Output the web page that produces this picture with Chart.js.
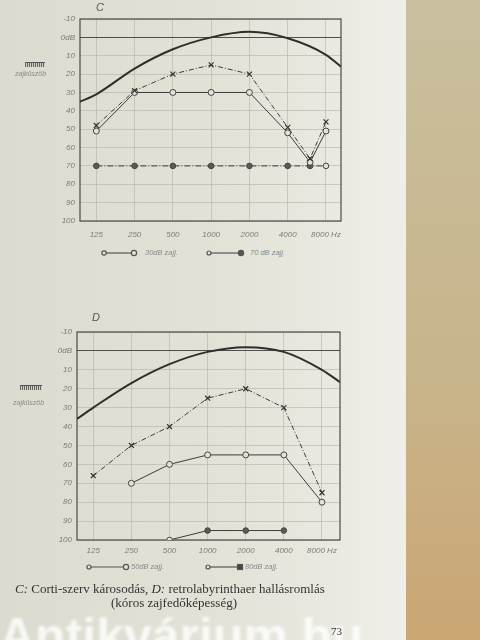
<!DOCTYPE html>
<html>
<head>
<meta charset="utf-8">
<script src="https://cdn.jsdelivr.net/npm/chart.js@4"></script>
<style>
  html,body{margin:0;padding:0;width:480px;height:640px;overflow:hidden;}
  body{position:relative;background:linear-gradient(180deg,#c9bf9f 0%,#c8b48a 60%,#caa673 100%);}
  #page{position:absolute;left:0;top:0;width:406px;height:640px;
        background:linear-gradient(90deg,#dcdbcf 0%,#e3e2d7 55%,#ecebe4 90%,#efeee8 100%);}
  canvas{position:absolute;left:0;}
  .t{position:absolute;white-space:nowrap;}
  .title{font:italic 11px "Liberation Sans",sans-serif;color:#555;}
  .side{font:italic 7px "Liberation Sans",sans-serif;color:#8a8a82;}
  .hatch{position:absolute;height:4px;background:repeating-linear-gradient(90deg,#666 0 1px,#cfcec4 1px 2px);border-top:1px solid #555;}
  .leg{font:italic 7.5px "Liberation Sans",sans-serif;color:#888;}
  .cap{font:13px "Liberation Serif","DejaVu Serif",serif;color:#333;}
  svg{position:absolute;overflow:visible;}
  #wm{position:absolute;left:-1px;top:607px;font:bold 50px "Liberation Sans",sans-serif;color:rgba(255,255,255,0.8);filter:blur(1.6px);}
</style>
</head>
<body>
<div id="page"></div>
<canvas id="cC" width="360" height="240" style="top:0px"></canvas>
<canvas id="cD" width="360" height="250" style="top:310px"></canvas>

<div class="t title" style="left:96px;top:1px;">C</div>
<div class="t title" style="left:92px;top:311px;">D</div>

<div class="hatch" style="left:25px;top:62px;width:20px;"></div>
<div class="t side" style="left:15px;top:70px;">zajküszöb</div>
<div class="hatch" style="left:20px;top:385px;width:22px;"></div>
<div class="t side" style="left:13px;top:399px;">zajküszöb</div>

<!-- legends -->
<svg style="left:0;top:0;width:1px;height:1px">
  <g stroke="#555" stroke-width="1.2">
    <line x1="104" y1="253" x2="134" y2="253"/>
    <circle cx="104" cy="253" r="2.2" fill="#e3e2d7"/>
    <circle cx="134" cy="253" r="2.6" fill="#e3e2d7"/>
    <line x1="209" y1="253" x2="241" y2="253"/>
    <circle cx="209" cy="253" r="2" fill="#e3e2d7"/>
    <circle cx="241" cy="253" r="2.6" fill="#555"/>
    <line x1="89" y1="567" x2="126" y2="567"/>
    <circle cx="89" cy="567" r="2" fill="#e3e2d7"/>
    <circle cx="126" cy="567" r="2.6" fill="#e3e2d7"/>
    <line x1="208" y1="567" x2="240" y2="567"/>
    <circle cx="208" cy="567" r="2" fill="#e3e2d7"/>
    <rect x="237.5" y="564.5" width="5" height="5" fill="#444"/>
  </g>
</svg>
<div class="t leg" style="left:145px;top:248px;">30dB zajj.</div>
<div class="t leg" style="left:250px;top:248px;">70 dB zajj.</div>
<div class="t leg" style="left:131px;top:562px;">50dB zajj.</div>
<div class="t leg" style="left:245px;top:562px;">80dB zajj.</div>

<div class="t cap" style="left:15px;top:581px;"><i>C:</i> Corti-szerv károsodás, <i>D:</i> retrolabyrinthaer hallásromlás</div>
<div class="t cap" style="left:111px;top:595px;">(kóros  zajfedőképesség)</div>
<div id="wm">Antikvárium.hu</div>
<div class="t cap" style="left:331px;top:625px;font-size:11px;">73</div>

<script>
// ---- shared axis data ----
const freqTicks = [125, 250, 500, 1000, 2000, 4000, 8000];
const freqTickLabels = ['125', '250', '500', '1000', '2000', '4000', '8000 Hz'];
const dbTicks = [-10, 0, 10, 20, 30, 40, 50, 60, 70, 80, 90, 100];
const dbTickLabels = ['-10', '0dB', '10', '20', '30', '40', '50', '60', '70', '80', '90', '100'];

// ---- chart C ----
const curveFreqsC = [93, 125, 250, 500, 1000, 2000, 4000, 8000, 10500];
const curveC = [35, 31, 17, 6.5, 0, -3, 0.5, 9.5, 16];
const freqsC = [125, 250, 500, 1000, 2000, 4000, 6000, 8000];
const quietC = [48, 29, 20, 15, 20, 49, 66, 46];
const noise30C = [51, 30, 30, 30, 30, 52, 68, 51];
const noise70C = [70, 70, 70, 70, 70, 70, 70, 70];

// ---- chart D ----
const curveFreqsD = [93, 125, 250, 500, 1000, 2000, 4000, 8000, 11100];
const curveD = [36, 30, 17, 7, 0.5, -2, 0.5, 10, 16.5];
const freqsD = [125, 250, 500, 1000, 2000, 4000, 8000];
const quietD = [66, 50, 40, 25, 20, 30, 75];
const noise50FreqsD = [250, 500, 1000, 2000, 4000, 8000];
const noise50D = [70, 60, 55, 55, 55, 80];
const noise80FreqsD = [500, 1000, 2000, 4000];
const noise80D = [100, 95, 95, 95];

const PAGE = '#e3e2d7';
const INK = '#3c3c3a';

function pts(xs, ys) { return xs.map((x, i) => ({ x: x, y: ys[i] })); }

const boxPlugin = {
  id: 'box',
  beforeDatasetsDraw(chart) {
    const a = chart.chartArea, c = chart.ctx;
    c.save();
    c.strokeStyle = '#4a4a46';
    c.lineWidth = 1.2;
    c.strokeRect(a.left, a.top, a.right - a.left, a.bottom - a.top);
    c.restore();
  }
};

function makeChart(id, o) {
  const tickFont = { family: 'Liberation Sans', size: 8, style: 'italic' };
  return new Chart(document.getElementById(id), {
    type: 'line',
    data: { datasets: o.datasets },
    options: {
      responsive: false,
      animation: false,
      devicePixelRatio: 1,
      layout: { padding: o.padding },
      plugins: { legend: { display: false }, tooltip: { enabled: false } },
      scales: {
        x: {
          type: 'logarithmic',
          min: o.xMin, max: o.xMax,
          afterBuildTicks: s => { s.ticks = freqTicks.map(v => ({ value: v })); },
          afterFit: s => { s.height = o.xAxisH; },
          ticks: {
            autoSkip: false, maxRotation: 0, padding: o.xPad,
            color: '#7d7c74', font: tickFont,
            callback: (v) => freqTickLabels[freqTicks.indexOf(v)]
          },
          grid: { color: '#b3b2a8', lineWidth: 0.6, drawTicks: false },
          border: { display: false }
        },
        y: {
          type: 'linear', reverse: true, min: -10, max: 100,
          afterBuildTicks: s => { s.ticks = dbTicks.map(v => ({ value: v })); },
          afterFit: s => { s.width = o.yAxisW; },
          ticks: {
            padding: 5, color: '#7d7c74', font: tickFont,
            callback: (v) => dbTickLabels[dbTicks.indexOf(v)]
          },
          grid: {
            drawTicks: false,
            color: c => (c.tick && c.tick.value === 0) ? '#4e4e4a' : '#b3b2a8',
            lineWidth: c => (c.tick && c.tick.value === 0) ? 1.1 : 0.6
          },
          border: { display: false }
        }
      }
    },
    plugins: [boxPlugin]
  });
}

function curveDs(xs, ys) {
  return { data: pts(xs, ys), borderColor: '#2e2e2c', borderWidth: 2, pointRadius: 0,
           cubicInterpolationMode: 'monotone', fill: false };
}
function crossDs(xs, ys) {
  return { data: pts(xs, ys), borderColor: INK, borderWidth: 1, borderDash: [5, 2, 1, 2],
           pointStyle: 'crossRot', pointRadius: 3.5, pointBorderWidth: 1.2, pointBorderColor: '#333' };
}
function openDs(xs, ys) {
  return { data: pts(xs, ys), borderColor: INK, borderWidth: 1,
           pointStyle: 'circle', pointRadius: 3, pointBorderWidth: 1, pointBorderColor: '#444',
           pointBackgroundColor: PAGE };
}
function filledDs(xs, ys, openIdx) {
  return { data: pts(xs, ys), borderColor: INK, borderWidth: 1, borderDash: [6, 2, 1, 2],
           pointStyle: 'circle', pointRadius: 2.8, pointBorderWidth: 1, pointBorderColor: '#444',
           pointBackgroundColor: xs.map((_, i) => i === openIdx ? PAGE : '#5a5a58') };
}

makeChart('cC', {
  xMin: 93, xMax: 10500, yAxisW: 80, xAxisH: 19, xPad: 9,
  padding: { top: 19, right: 19, left: 0, bottom: 0 },
  datasets: [
    curveDs(curveFreqsC, curveC),
    crossDs(freqsC, quietC),
    openDs(freqsC, noise30C),
    filledDs(freqsC, noise70C, freqsC.length - 1)
  ]
});

makeChart('cD', {
  xMin: 93, xMax: 11100, yAxisW: 77, xAxisH: 20, xPad: 6,
  padding: { top: 22, right: 20, left: 0, bottom: 0 },
  datasets: [
    curveDs(curveFreqsD, curveD),
    crossDs(freqsD, quietD),
    openDs(noise50FreqsD, noise50D),
    Object.assign(filledDs(noise80FreqsD, noise80D, 0), { borderDash: [] })
  ]
});
</script>
</body>
</html>
